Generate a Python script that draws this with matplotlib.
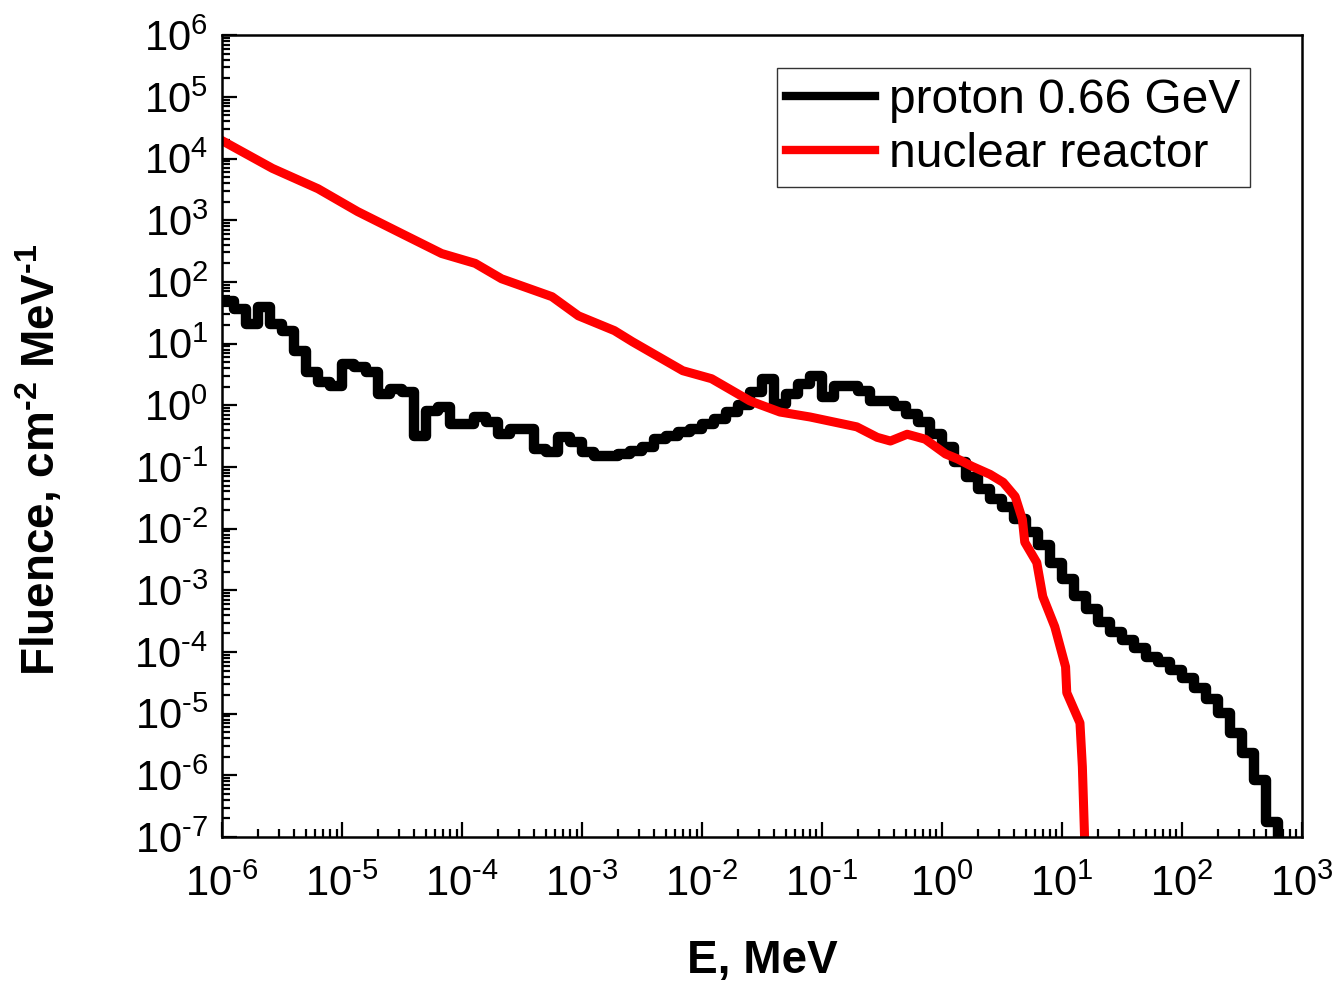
import matplotlib
matplotlib.use("Agg")
import matplotlib.pyplot as plt
import numpy as np
from matplotlib.ticker import LogLocator, FuncFormatter, NullFormatter

plt.rcParams['font.family'] = ['Liberation Sans', 'DejaVu Sans']
plt.rcParams['mathtext.fontset'] = 'custom'
plt.rcParams['mathtext.rm'] = 'Liberation Sans'
plt.rcParams['mathtext.it'] = 'Liberation Sans:italic'
plt.rcParams['mathtext.bf'] = 'Liberation Sans:bold'

# proton 0.66 GeV: histogram, 10 bins per decade starting at 1e-6 MeV
# values are log10(fluence)
proton_edges = np.logspace(-6, 2.8, 89)
proton_log = [1.69, 1.56, 1.32, 1.60, 1.32, 1.21, 0.88, 0.54, 0.38, 0.31,
              0.67, 0.62, 0.54, 0.18, 0.26, 0.22, -0.50, -0.09, -0.03, -0.31,
              -0.31, -0.19, -0.27, -0.47, -0.39, -0.39, -0.71, -0.76, -0.52, -0.60,
              -0.76, -0.83, -0.83, -0.79, -0.74, -0.68, -0.55, -0.50, -0.44, -0.39,
              -0.31, -0.22, -0.11, 0.00, 0.22, 0.43, 0.02, 0.18, 0.35, 0.48,
              0.13, 0.31, 0.31, 0.23, 0.07, 0.07, -0.01, -0.14, -0.27, -0.47,
              -0.68, -0.92, -1.17, -1.36, -1.52, -1.65, -1.85, -2.06, -2.26, -2.55,
              -2.82, -3.10, -3.31, -3.51, -3.67, -3.80, -3.93, -4.08, -4.16, -4.29,
              -4.42, -4.58, -4.77, -4.99, -5.31, -5.64, -6.07, -6.76]

# nuclear reactor: log10(E), log10(fluence)
reactor_logE = [-6.00, -5.58, -5.20, -4.87, -4.50, -4.17, -3.89, -3.67, -3.25, -3.03,
                -2.73, -2.58, -2.16, -1.92, -1.60, -1.35, -1.10, -0.71, -0.54, -0.43,
                -0.29, -0.14, 0.03, 0.13, 0.25, 0.40, 0.51, 0.61, 0.67, 0.69,
                0.79, 0.84, 0.94, 1.03, 1.04, 1.15, 1.17, 1.19]
reactor_logF = [4.29, 3.84, 3.51, 3.14, 2.78, 2.46, 2.30, 2.05, 1.76, 1.45,
                1.21, 1.03, 0.56, 0.43, 0.07, -0.11, -0.19, -0.35, -0.52, -0.58,
                -0.47, -0.55, -0.79, -0.87, -0.99, -1.12, -1.25, -1.48, -1.85, -2.22,
                -2.55, -3.10, -3.59, -4.24, -4.66, -5.15, -5.86, -7.10]

labels = ['proton 0.66 GeV', 'nuclear reactor']

fig = plt.figure(figsize=(13.4, 9.9), dpi=100)
ax = fig.add_axes([0.1657, 0.1545, 0.8059, 0.81])

# step curve, last value repeated then dropped below the axis
px = np.concatenate([proton_edges, [proton_edges[-1]]])
py = np.concatenate([10.0 ** np.array(proton_log), [10.0 ** proton_log[-1], 1e-9]])
ax.step(px, py, where='post', color='black', lw=7.5, solid_joinstyle='round',
        label=labels[0])
ax.plot(10.0 ** np.array(reactor_logE), 10.0 ** np.array(reactor_logF),
        color='#ff0000', lw=6.5, solid_joinstyle='round', label=labels[1])

ax.set_xscale('log')
ax.set_yscale('log')
ax.set_xlim(1e-6, 1e3)
ax.set_ylim(1e-7, 1e6)

def sci(v, pos):
    n = int(round(np.log10(v)))
    s = str(abs(n)) if n >= 0 else '\u2010' + str(abs(n))
    return r'$\mathregular{10^{%s}}$' % s

for axis in (ax.xaxis, ax.yaxis):
    axis.set_major_locator(LogLocator(base=10, numticks=20))
    axis.set_minor_locator(LogLocator(base=10, subs=np.arange(2, 10), numticks=20))
    axis.set_major_formatter(FuncFormatter(sci))
    axis.set_minor_formatter(NullFormatter())

ax.tick_params(which='both', direction='in', top=False, right=False, width=1.6)
ax.tick_params(which='major', length=11, labelsize=30)
ax.tick_params(axis='x', which='major', pad=20)
ax.tick_params(axis='y', which='major', pad=10)
ax.tick_params(which='minor', length=6)
for s in ax.spines.values():
    s.set_linewidth(1.8)

ax.set_xlabel('E, MeV', fontsize=33, fontweight='bold', labelpad=24)
ax.set_ylabel('Fluence, cm$^{\\mathbf{\u2010}\\mathbf{2}}$ MeV$^{\\mathbf{\u2010}\\mathbf{1}}$',
              fontsize=33, fontweight='bold')
ax.yaxis.set_label_coords(-0.145, 0.47)

leg = ax.legend(loc='upper right', bbox_to_anchor=(1250 / 1340, 1 - 68 / 990),
                bbox_transform=fig.transFigure, borderaxespad=0,
                fontsize=34.5, frameon=True, fancybox=False,
                handlelength=1.85, handletextpad=0.3, borderpad=0.2,
                labelspacing=0.2)
leg.get_frame().set_edgecolor('black')
leg.get_frame().set_linewidth(1.0)
for line in leg.get_lines():
    line.set_linewidth(6)

fig.savefig('out.png', dpi=100)
